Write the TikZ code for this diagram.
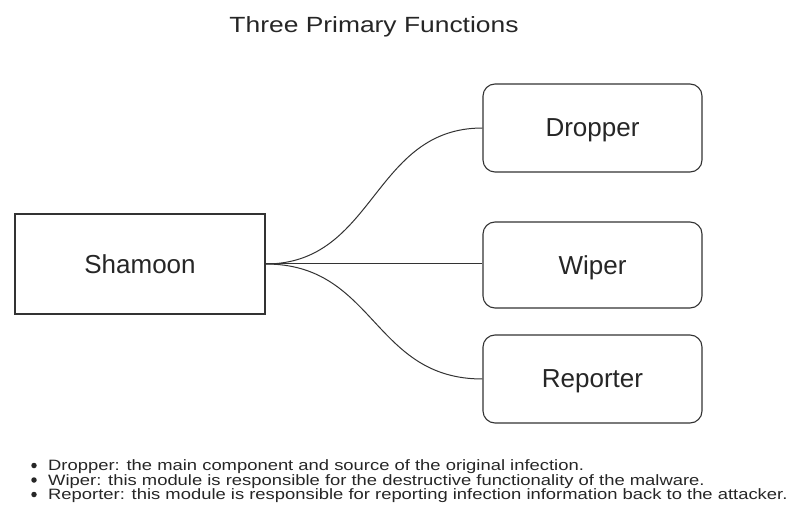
\documentclass[tikz,border=0pt]{standalone}
\usepackage{fontspec}
\setmainfont{Liberation Sans}
\begin{document}
\begin{tikzpicture}[x=1pt,y=-1pt,
  box/.style={draw=black!80,line width=1.1pt,fill=white,inner sep=0pt,font=\fontsize{26}{30}\selectfont,text=black!85},
  rbox/.style={box,rounded corners=12pt,text depth=0pt},
  link/.style={draw=black!80,line width=1pt},
  note/.style={anchor=base west,inner sep=0pt,font=\fontsize{15}{15}\selectfont,text=black!85},
  dot/.style={fill=black!85,circle,inner sep=0pt,minimum size=5.5pt}]
\useasboundingbox[fill=white] (0,0) rectangle (800,510);
\node[font=\fontsize{22}{26}\selectfont,text=black!85,anchor=base] (title) at (374,32.5) {\scalebox{1.2}[1]{Three Primary Functions}};
\node[box,minimum width=250pt,minimum height=100pt] (sham) at (140,264) {Shamoon};
\node[rbox,minimum width=219pt,minimum height=88pt] (drop) at (592.5,128) {Dropper};
\node[rbox,minimum width=219pt,minimum height=86pt] (wipe) at (592.5,265) {Wiper};
\node[rbox,minimum width=219pt,minimum height=88pt] (rep) at (592.5,379) {Reporter};
\draw[link] (sham.east) .. controls +(110,0) and +(-110,0) .. (drop.west);
\draw[link] (sham.east) -- (wipe.west |- sham.east);
\draw[link] (sham.east) .. controls +(110,0) and +(-110,0) .. (rep.west);
\node[dot] (b1) at (34,465.5) {};
\node[dot] (b2) at (34,480) {};
\node[dot] (b3) at (34,494.5) {};
\node[note] (n1) at (48,470.7) {\scalebox{1.227}[1]{Dropper: the main component and source of the original infection.}};
\node[note] (n2) at (48,485.2) {\scalebox{1.227}[1]{Wiper: this module is responsible for the destructive functionality of the malware.}};
\node[note] (n3) at (48,499.7) {\scalebox{1.227}[1]{Reporter: this module is responsible for reporting infection information back to the attacker.}};
\end{tikzpicture}
\end{document}
